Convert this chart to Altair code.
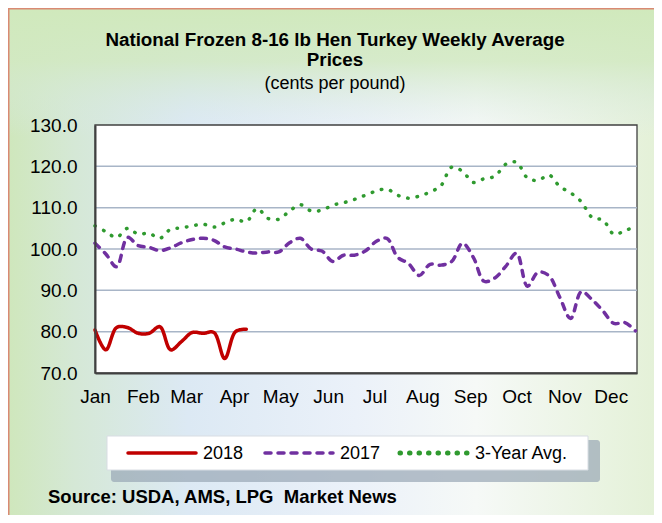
import altair as alt
import pandas as pd

# ---------------- data ----------------
series_names = ["2018", "2017", "3-Year Avg."]
series_colors = ["#C00000", "#7030A0", "#2F9A2F"]
series_dashes = [[1, 0], [6, 7], [0.5, 9]]
series_widths = [3.5, 3.5, 5]

# weekly prices (cents per pound), first week = Jan 1
prices_2018 = [80.4, 75.6, 81.0, 81.0, 79.6, 79.6, 81.2, 75.6, 77.6, 79.8,
               79.6, 79.8, 73.5, 80.0, 80.6]
prices_2017 = [101.4, 98.8, 95.7, 102.8, 100.8, 100.4, 99.6, 100.3, 101.5, 102.3,
               102.6, 102.1, 100.5, 100.0, 99.3, 99.0, 99.3, 99.3, 101.5, 102.6,
               100.0, 99.5, 97.0, 98.5, 98.5, 99.5, 101.8, 102.6, 98.0, 96.5,
               93.6, 96.3, 96.1, 97.0, 101.4, 98.0, 92.2, 93.0, 95.8, 99.0,
               91.0, 94.4, 93.5, 88.3, 83.2, 89.7, 87.7, 85.0, 82.0, 82.2,
               80.2]
prices_3yr = [105.6, 104.2, 102.8, 105.0, 103.6, 103.8, 102.6, 104.8, 105.1, 105.6,
              106.0, 105.3, 106.3, 107.2, 106.6, 109.8, 107.4, 107.2, 109.2, 110.7,
              109.2, 109.4, 110.6, 111.2, 112.0, 113.0, 114.0, 114.5, 113.0, 112.3,
              112.8, 113.8, 115.3, 119.8, 118.8, 116.1, 117.0, 117.6, 120.5, 121.0,
              117.2, 116.6, 117.9, 115.1, 113.6, 111.4, 107.6, 107.0, 103.6, 104.4,
              105.5]
days_per_week = 7

month_names = ["Jan", "Feb", "Mar", "Apr", "May", "Jun",
               "Jul", "Aug", "Sep", "Oct", "Nov", "Dec"]
month_start_days = [0, 31, 59, 90, 120, 151, 181, 212, 243, 273, 304, 334]
x_domain = [0, 351]
y_ticks = [70, 80, 90, 100, 110, 120, 130]
grid_values = [80, 90, 100, 110, 120]

title_lines = ["National Frozen 8-16 lb Hen Turkey Weekly Average", "Prices"]
subtitle_text = "(cents per pound)"
source_text = "Source: USDA, AMS, LPG\u00a0 Market News"

# ---------------- tables ----------------
rows = []
for name, vals in zip(series_names, [prices_2018, prices_2017, prices_3yr]):
    for i, v in enumerate(vals):
        rows.append({"series": name, "day": i * days_per_week, "price": v})
df = pd.DataFrame(rows)
grid_df = pd.DataFrame({"g": grid_values})
one = alt.Data(values=[{"k": 1}])

# ---------------- layout ----------------
W, H = 542, 248
PAD = {"left": 87, "top": 117, "right": 17, "bottom": 142}
FONT = "Liberation Sans"

x_scale = alt.Scale(domain=x_domain, nice=False, zero=False)
y_scale = alt.Scale(domain=[70, 130], nice=False, zero=False)

label_expr = "[" + ",".join("'%s'" % m for m in month_names) + "][indexof([" + \
    ",".join(str(d) for d in month_start_days) + "], datum.value)]"

x_axis = alt.Axis(
    values=month_start_days, labelExpr=label_expr, title=None,
    labelFont=FONT, labelFontSize=19, labelColor="black", labelPadding=14,
    ticks=False, grid=False, domain=True, domainColor="#404040", domainWidth=2,
    labelOverlap=False, labelFlush=False, zindex=1)
y_axis = alt.Axis(
    values=y_ticks, format=".1f", title=None,
    labelFont=FONT, labelFontSize=19, labelColor="black", labelPadding=18,
    ticks=False, grid=False, domain=True, domainColor="#404040", domainWidth=2,
    zindex=1)

FULL = dict(x=alt.value(-PAD["left"]), x2=alt.value(W + 40),
            y=alt.value(-PAD["top"]), y2=alt.value(H + 170))

bg = alt.Chart(one).mark_rect(
    fill=alt.LinearGradient(
        gradient="linear", x1=0, y1=0, x2=1, y2=0,
        stops=[
            alt.GradientStop(offset=0.0, color="#cfe7bc"),
            alt.GradientStop(offset=0.1, color="#d5e8d6"),
            alt.GradientStop(offset=0.27, color="#dce9f4"),
            alt.GradientStop(offset=0.52, color="#ebf1f9"),
            alt.GradientStop(offset=0.7, color="#f6f9f7"),
            alt.GradientStop(offset=1.0, color="#e2f0d4"),
        ],
    ),
).encode(**FULL)

bg_top = alt.Chart(one).mark_rect(
    fill=alt.LinearGradient(
        gradient="linear", x1=0, y1=0, x2=0, y2=1,
        stops=[
            alt.GradientStop(offset=0.0, color="rgba(208,233,188,1)"),
            alt.GradientStop(offset=0.1, color="rgba(210,233,194,0.85)"),
            alt.GradientStop(offset=0.24, color="rgba(218,233,236,0)"),
            alt.GradientStop(offset=1.0, color="rgba(218,233,236,0)"),
        ],
    ),
    stroke="#d98a73",
    strokeWidth=3,
).encode(**FULL)

plot_bg = alt.Chart(one).mark_rect(fill="white", stroke="#404040", strokeWidth=1.3).encode(
    x=alt.value(0), x2=alt.value(W), y=alt.value(0), y2=alt.value(H))

grid = alt.Chart(grid_df).mark_rule(color="#a8b5c7", strokeWidth=1.5).encode(
    y=alt.Y("g:Q", scale=y_scale, axis=y_axis))

lines = alt.Chart(df).mark_line(interpolate="catmull-rom", strokeCap="round", strokeJoin="round").encode(
    x=alt.X("day:Q", scale=x_scale, axis=x_axis),
    y=alt.Y("price:Q", scale=y_scale, axis=y_axis),
    color=alt.Color("series:N", scale=alt.Scale(domain=series_names, range=series_colors),
                    legend=None),
    strokeDash=alt.StrokeDash("series:N", scale=alt.Scale(domain=series_names,
                              range=series_dashes), legend=None),
    strokeWidth=alt.StrokeWidth("series:N", scale=alt.Scale(domain=series_names,
                                range=series_widths), legend=None),
)

# ---------------- legend (drawn box with samples) ----------------
shadow = alt.Chart(one).mark_rect(fill="#98a7b5", opacity=0.7, cornerRadius=3).encode(
    x=alt.value(16), x2=alt.value(505), y=alt.value(315), y2=alt.value(357))
legend_box = alt.Chart(one).mark_rect(fill="white", stroke="#d8dde3", strokeWidth=1).encode(
    x=alt.value(12), x2=alt.value(493), y=alt.value(311), y2=alt.value(345))

legend_sample_x = [33, 170, 305]   # left end of each sample line (px in plot coords)
legend_sample_len = 68
legend_y = 328
legend_layers = []
for name, col, dash, sw, x0 in zip(series_names, series_colors, series_dashes,
                                   series_widths, legend_sample_x):
    legend_layers.append(
        alt.Chart(one).mark_rule(color=col, strokeDash=dash, strokeWidth=sw,
                                 strokeCap="round").encode(
            x=alt.value(x0), x2=alt.value(x0 + legend_sample_len), y=alt.value(legend_y)))
    legend_layers.append(
        alt.Chart(alt.Data(values=[{"t": name}])).mark_text(
            font=FONT, fontSize=18, color="black", align="left", baseline="middle").encode(
            x=alt.value(x0 + legend_sample_len + 7), y=alt.value(legend_y + 1), text="t:N"))

# ---------------- titles & source ----------------
title_x = 240
title_layers = []
for txt, base, bold, size in [(title_lines[0], -79, True, 18.8),
                              (title_lines[1], -59, True, 18.8),
                              (subtitle_text, -36, False, 18)]:
    title_layers.append(
        alt.Chart(alt.Data(values=[{"t": txt}])).mark_text(
            font=FONT, fontSize=size, fontWeight="bold" if bold else "normal",
            color="black", align="center", baseline="alphabetic").encode(
            x=alt.value(title_x), y=alt.value(base), text="t:N"))

source = alt.Chart(alt.Data(values=[{"t": source_text}])).mark_text(
    font=FONT, fontSize=18.5, fontWeight="bold", color="black",
    align="left", baseline="alphabetic").encode(
    x=alt.value(-47), y=alt.value(378), text="t:N")

chart = alt.layer(bg, bg_top, plot_bg, grid, lines, shadow, legend_box,
                  *legend_layers, *title_layers, source).properties(
    width=W, height=H,
    padding=PAD,
    autosize=alt.AutoSizeParams(type="none"),
).configure_view(stroke=None).configure(background="white")

chart.save("out.html", embed_options={"renderer": "svg", "actions": False})
